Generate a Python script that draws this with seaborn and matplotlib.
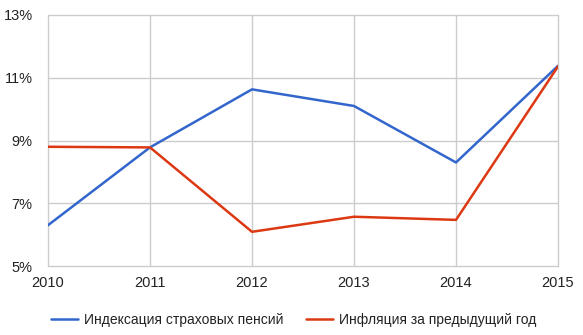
import matplotlib
matplotlib.use("Agg")
import matplotlib.pyplot as plt
import seaborn as sns
import pandas as pd
from matplotlib.ticker import FuncFormatter
from matplotlib.lines import Line2D

years = [2010, 2011, 2012, 2013, 2014, 2015]
indexation = [6.3, 8.78, 10.63, 10.1, 8.3, 11.38]
inflation = [8.8, 8.78, 6.09, 6.57, 6.47, 11.36]
series_names = ["Индексация страховых пенсий", "Инфляция за предыдущий год"]
y_ticks = [5, 7, 9, 11, 13]

df = pd.DataFrame({
    "year": years * 2,
    "value": indexation + inflation,
    "series": [series_names[0]] * len(years) + [series_names[1]] * len(years),
})

sns.set_theme(style="white")
plt.rcParams['font.family'] = ['Liberation Sans', 'DejaVu Sans']

fig = plt.figure(figsize=(5.83, 3.35), dpi=100)
ax = fig.add_axes([48/583, 1-266/335, (558-48)/583, (266-15)/335])

sns.lineplot(data=df, x="year", y="value", hue="series",
             palette=["#3366CC", "#DC3912"], linewidth=1.8, ax=ax, legend=False)

ax.set_xlim(2010, 2015)
ax.set_ylim(5, 13)
ax.set_xticks(years)
ax.set_yticks(y_ticks)
ax.yaxis.set_major_formatter(FuncFormatter(lambda v, p: f"{int(v)}%"))
ax.set_xlabel("")
ax.set_ylabel("")
for s in ax.spines.values():
    s.set_visible(False)
ax.grid(True, color="#cccccc", linewidth=1.0)
ax.set_axisbelow(True)
for gl in ax.get_xgridlines() + ax.get_ygridlines():
    gl.set_clip_on(False)
ax.tick_params(axis="both", length=0, labelsize=10.5, colors="#222222")
ax.tick_params(axis="x", pad=7)
ax.tick_params(axis="y", pad=11)

handles = [Line2D([], [], color="#3366CC", linewidth=1.8),
           Line2D([], [], color="#DC3912", linewidth=1.8)]
fig.legend(handles, series_names, loc="center", bbox_to_anchor=(293.5/583, 1-320/335),
           ncol=2, frameon=False, fontsize=10, handlelength=1.95, columnspacing=1.6,
           handletextpad=0.45, labelcolor="#222222")

fig.savefig("out.png", dpi=100)
